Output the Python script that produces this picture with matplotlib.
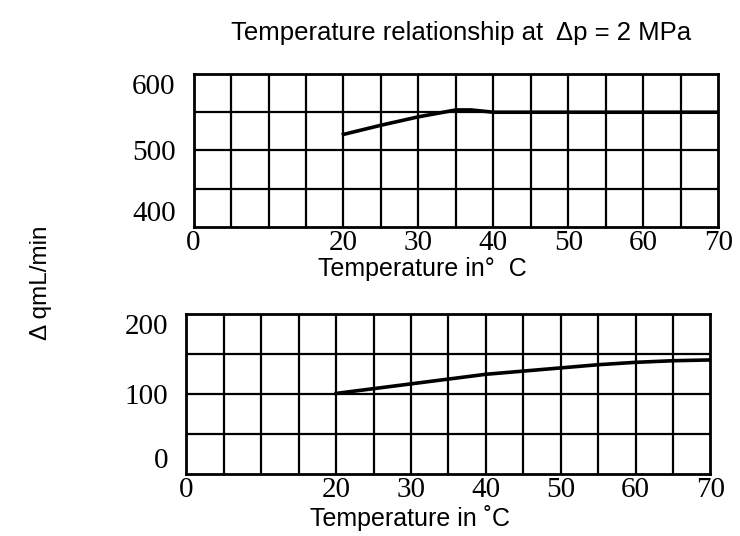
import matplotlib.pyplot as plt
import numpy as np

# top panel: flow change at 500 range
top_temp = [20, 25, 30, 35, 37, 40, 50, 60, 70]
top_flow = [521, 533, 544, 553, 553, 550, 550, 550, 550]

# bottom panel: flow change at 100 range
bot_temp = [20, 25, 30, 35, 40, 45, 50, 55, 60, 65, 70]
bot_flow = [101, 107, 113, 119, 125, 129, 133, 137, 140, 142, 143]

x_labels = [0, 20, 30, 40, 50, 60, 70]
top_yticks = [400, 500, 600]
bot_yticks = [0, 100, 200]

fig = plt.figure(figsize=(7.4, 5.36), dpi=100)

def style_axes(ax, ylim, yticks, ygrid):
    ax.set_xlim(0, 70)
    ax.set_ylim(*ylim)
    for v in np.arange(5, 70, 5):
        ax.axvline(v, color='black', lw=1.6, zorder=1)
    for v in ygrid:
        ax.axhline(v, color='black', lw=1.6, zorder=1)
    for s in ax.spines.values():
        s.set_linewidth(2.0)
    ax.set_xticks(x_labels)
    ax.set_xticklabels([str(v) for v in x_labels], family='Liberation Serif', fontsize=21)
    ax.set_yticks(yticks)
    labs = ax.set_yticklabels([str(v) for v in yticks], family='Liberation Serif', fontsize=21)
    # end labels sit slightly inside the frame, as in the original
    labs[0].set_va('bottom')
    labs[-1].set_va('top')
    ax.tick_params(axis='y', length=0, pad=13)
    ax.tick_params(axis='x', length=0, pad=2)

ax1 = fig.add_axes([0.2616, 0.5765, 0.709, 0.2855])
style_axes(ax1, (400, 600), top_yticks, [450, 500, 550])
ax1.plot(top_temp, top_flow, color='black', lw=2.6, zorder=3)
ax1.set_xlabel("Temperature in\u00b0  C", family='Liberation Sans', fontsize=18)
ax1.xaxis.set_label_coords(0.4355, -0.195, transform=ax1.transAxes)

ax2 = fig.add_axes([0.252, 0.1157, 0.708, 0.2976])
style_axes(ax2, (0, 200), bot_yticks, [50, 100, 150])
ax2.plot(bot_temp, bot_flow, color='black', lw=2.6, zorder=3)
ax2.set_xlabel("Temperature in \u02daC", family='Liberation Sans', fontsize=18)
ax2.xaxis.set_label_coords(0.4265, -0.195, transform=ax2.transAxes)

fig.text(0.623, 0.938, "Temperature relationship at  \u0394p = 2 MPa",
         ha='center', va='center', family='Liberation Sans', fontsize=18.5)
fig.text(0.055, 0.472, "\u0394 qmL/min", rotation=90, ha='center', va='center',
         family='Liberation Sans', fontsize=17.5)

plt.savefig("out.png", dpi=100)
